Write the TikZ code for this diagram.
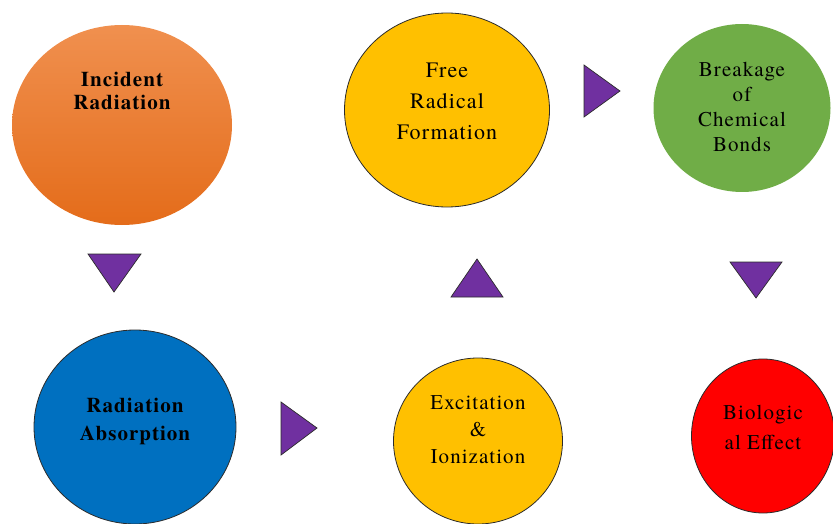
\documentclass[tikz,border=0pt]{standalone}
\usepackage{fontspec}
\setmainfont{texgyretermes}[Extension=.otf, UprightFont=*-regular, BoldFont=*-bold, ItalicFont=*-italic, BoldItalicFont=*-bolditalic, LetterSpace=5]
\usetikzlibrary{shapes.geometric, positioning, calc}

\definecolor{incTop}{HTML}{F0904F}
\definecolor{incBot}{HTML}{E46C1A}
\definecolor{radYellow}{HTML}{FFC000}
\definecolor{bondGreen}{HTML}{70AD47}
\definecolor{absBlue}{HTML}{0070C0}
\definecolor{bioRed}{HTML}{FF0000}
\definecolor{triPurple}{HTML}{7030A0}
\definecolor{rimGray}{HTML}{2B2B2B}

\begin{document}
\begin{tikzpicture}[x=1pt, y=-1pt,
    stage/.style={ellipse, inner sep=0pt},
    rim/.style={draw=rimGray, line width=0.8pt},
    txt/.style={align=center, text=black, inner sep=0pt},
    tri/.style={fill=triPurple, draw=rimGray, line width=0.7pt, line join=miter}]

    \useasboundingbox (0,0) rectangle (833,524);

    %% stages
    \node (inc) [stage, top color=incTop, bottom color=incBot, minimum width=220, minimum height=200] at (122,125) {};
    \node (free) [stage, rim, fill=radYellow, minimum width=205, minimum height=194] at (447,110) {};
    \node (bond) [stage, fill=bondGreen, minimum width=177, minimum height=168] at (742,108) {};
    \node (abs) [stage, rim, fill=absBlue, minimum width=202, minimum height=194] at (135,427) {};
    \node (exc) [stage, rim, fill=radYellow, minimum width=169, minimum height=166] at (478,441) {};
    \node (bio) [stage, rim, fill=bioRed, minimum width=143, minimum height=154] at (763,436) {};

    %% labels
    \node (incT) [txt, font=\fontsize{21}{23}\selectfont\bfseries] at ($(inc.center)+(0,-34)$) {Incident\\Radiation};
    \node (freeT) [txt, font=\fontsize{22}{31}\selectfont] at ($(free.center)+(0,-9)$) {Free\\Radical\\Formation};
    \node (bondT) [txt, font=\fontsize{21}{25}\selectfont] at ($(bond.center)+(0,-1)$) {Breakage\\of\\Chemical\\Bonds};
    \node (absT) [txt, font=\fontsize{21}{28}\selectfont\bfseries] at ($(abs.center)+(0,-6)$) {Radiation\\Absorption};
    \node (excT) [txt, font=\fontsize{21}{27}\selectfont] at ($(exc.center)+(0,-11)$) {Excitation\\\&\\Ionization};
    \node (bioT) [txt, font=\fontsize{21}{30}\selectfont] at ($(bio.center)+(0,-9)$) {Biologic\\al Effect};

    %% arrows
    \draw[tri] (88,254) -- (141,254) -- (114,292) -- cycle;
    \draw[tri] (281,402) -- (317,428) -- (281,455) -- cycle;
    \draw[tri] (451,297) -- (503,297) -- (477,259) -- cycle;
    \draw[tri] (584,65) -- (620,91) -- (584,117) -- cycle;
    \draw[tri] (730,262) -- (782,262) -- (756,298) -- cycle;

\end{tikzpicture}
\end{document}
